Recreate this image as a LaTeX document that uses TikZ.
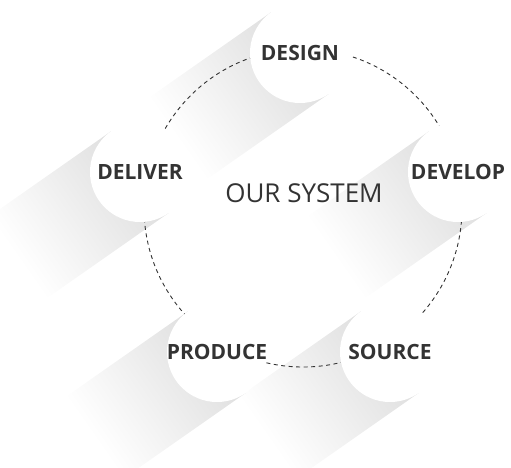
\documentclass[tikz,border=0pt]{standalone}
\usepackage{fontspec}
\setmainfont{Open Sans}
\definecolor{txt}{HTML}{333333}
\definecolor{shd}{HTML}{DFDFDF}
\definecolor{shdmid}{HTML}{F1F1F1}
\tikzset{
  disc/.style={circle, fill=white, minimum size=100pt, inner sep=0pt},
  lbl/.style={inner sep=0pt, text=txt, font=\fontsize{21}{25}\selectfont\bfseries},
  ring/.style={circle, draw=txt, line width=0.9pt, dash pattern=on 4pt off 3.5pt, minimum size=318pt, inner sep=0pt},
  shadowband/.style={left color=shd, middle color=shdmid, right color=white}
}
\newcommand{\longshadow}[2]{%
  \begin{scope}[transform canvas={shift={(#1,#2)}, rotate=215}]
    \shade[shadowband] (0,-50) rectangle (150,50);
  \end{scope}}
\begin{document}
\begin{tikzpicture}[x=1pt,y=-1pt]
\useasboundingbox (0,0) rectangle (511,467);
% long shadows
\longshadow{300}{53}
\longshadow{458}{172}
\longshadow{390}{352}
\longshadow{140}{172}
\longshadow{217}{352}
% dashed ring
\node[ring] (ring) at (303,208) {};
% discs
\node[disc] (design) at (300,53) {};
\node[disc] (develop) at (458,172) {};
\node[disc] (source) at (390,352) {};
\node[disc] (produce) at (217,352) {};
\node[disc] (deliver) at (140,172) {};
% labels
\node[lbl] (designT) at (design) {DESIGN};
\node[lbl] (developT) at (develop) {DEVELOP};
\node[lbl] (sourceT) at (source) {SOURCE};
\node[lbl] (produceT) at (produce) {PRODUCE};
\node[lbl] (deliverT) at (deliver) {DELIVER};
\node[inner sep=0pt, text=txt, font=\fontsize{26}{30}\selectfont] (center) at (304,193) {OUR SYSTEM};
\end{tikzpicture}
\end{document}
